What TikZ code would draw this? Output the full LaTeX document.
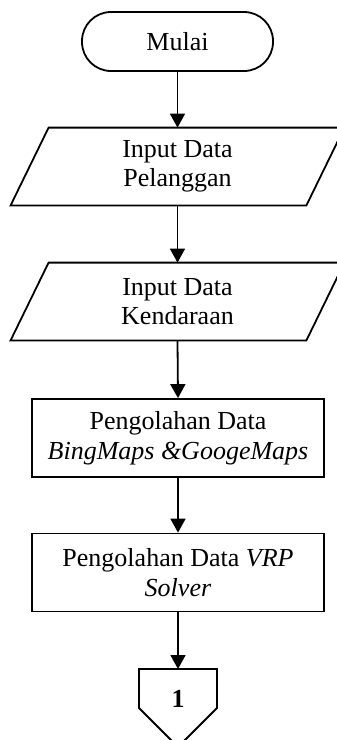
\documentclass[tikz,border=0pt]{standalone}
\usepackage{fontspec}
\setmainfont{Liberation Serif}
\usetikzlibrary{arrows.meta}
\begin{document}
\begin{tikzpicture}[x=0.5pt,y=-0.5pt,
  every node/.style={font=\fontsize{13pt}{14.75pt}\selectfont, align=center, inner sep=0pt},
  line/.style={line width=0.9pt},
  arr/.style={line width=0.9pt, -{Triangle[length=7pt,width=7.5pt]}},
  term/.style={draw, line width=0.9pt, rectangle, rounded corners=14.5pt, minimum width=95.5pt, minimum height=29.5pt},
  iobox/.style={rectangle, minimum width=147.5pt, minimum height=38.5pt},
  procbox/.style={draw, line width=0.9pt, rectangle, minimum width=146pt, minimum height=39pt}
]
\clip (0,0) rectangle (337,740);
\fill[white] (0,0) rectangle (337,740);

\node[term] (mulai) at (177.5,41.5) {Mulai};

\node[iobox] (p1) at (177.5,166.5) {Input Data\\Pelanggan};
\draw[line] ([xshift=-9.5pt]p1.south west) -- ([xshift=-9.5pt]p1.south east)
  -- ([xshift=9.5pt]p1.north east) -- ([xshift=9.5pt]p1.north west) -- cycle;

\node[iobox] (p2) at (177.5,301.5) {Input Data\\Kendaraan};
\draw[line] ([xshift=-9.5pt]p2.south west) -- ([xshift=-9.5pt]p2.south east)
  -- ([xshift=9.5pt]p2.north east) -- ([xshift=9.5pt]p2.north west) -- cycle;

\node[procbox] (r1) at (178,438) {Pengolahan Data\\\textit{BingMaps \&GoogeMaps}};
\node[procbox] (r2) at (178,572.5) {Pengolahan Data \textit{VRP}\\\textit{Solver}};

\node (c) at (178,699) {\textbf{1}};
\coordinate (ctop) at (178,669);
\draw[line] (139,669) -- (217,669) -- (217,708) -- (178,747) -- (139,708) -- cycle;

\draw[arr] (mulai.south) -- (p1.north);
\draw[arr] (p1.south) -- (p2.north);
\draw[arr] (p2.south) -- (r1.north);
\draw[arr] (r1.south) -- (r2.north);
\draw[arr] (r2.south) -- (ctop);
\end{tikzpicture}
\end{document}
